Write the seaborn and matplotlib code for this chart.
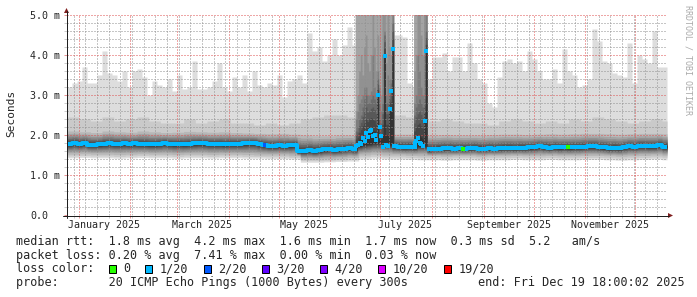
import numpy as np
import pandas as pd
import matplotlib
matplotlib.use("Agg")
import matplotlib.pyplot as plt
import matplotlib.dates as mdates
import matplotlib.transforms as mtransforms
from matplotlib.ticker import FixedLocator, MultipleLocator, NullFormatter
from matplotlib.patches import Rectangle, Polygon
from matplotlib.lines import Line2D
import seaborn as sns

sns.set_style("white")
plt.rcParams["font.family"] = ["DejaVu Sans Mono", "DejaVu Sans"]

# ---------------------------------------------------------------- data
START = pd.Timestamp("2024-12-25 00:00")
N_DAYS = 360

# 3-day samples (ms)
rtt_max = [3.20, 3.30, 3.35, 3.70, 3.30, 3.30, 3.50, 4.10, 3.55, 3.50,
           3.35, 3.60, 3.20, 3.60, 3.65, 3.45, 3.00, 3.35, 3.25, 3.20,
           3.40, 3.10, 3.50, 3.15, 3.20, 3.85, 3.15, 3.15, 3.20, 3.35,
           3.80, 3.20, 3.10, 3.45, 3.20, 3.50, 3.10, 3.60, 3.25, 3.20,
           3.30, 3.25, 3.50, 2.95, 3.35, 3.40, 3.50, 3.30, 4.55, 4.10,
           4.20, 3.85, 4.00, 4.40, 4.00, 4.25, 4.70, 4.25, 5.50, 5.50,
           5.50, 5.50, 5.50, 5.50, 5.50, 4.50, 4.50, 4.45, 3.30, 3.20,
           5.50, 5.50, 3.40, 3.95, 3.95, 4.05, 3.60, 3.95, 3.95, 3.60,
           4.30, 3.80, 3.40, 3.30, 2.80, 2.70, 3.45, 3.85, 3.90, 3.80,
           3.85, 3.60, 4.10, 3.90, 3.60, 3.40, 3.40, 3.65, 3.30, 4.15,
           3.60, 3.50, 3.20, 3.25, 3.40, 4.65, 4.35, 3.85, 3.80, 3.55,
           3.50, 3.45, 4.30, 3.30, 4.00, 3.90, 3.80, 4.60, 3.70, 3.70]
rtt_median = [1.78, 1.80, 1.78, 1.80, 1.76, 1.76, 1.77, 1.78, 1.79, 1.78,
              1.78, 1.79, 1.78, 1.79, 1.78, 1.78, 1.77, 1.77, 1.78, 1.80,
              1.78, 1.77, 1.78, 1.77, 1.78, 1.79, 1.80, 1.79, 1.78, 1.78,
              1.78, 1.77, 1.78, 1.78, 1.78, 1.79, 1.80, 1.80, 1.77, 1.75,
              1.73, 1.73, 1.74, 1.73, 1.74, 1.75, 1.60, 1.60, 1.62, 1.60,
              1.62, 1.64, 1.65, 1.63, 1.64, 1.66, 1.67, 1.64, 1.75, 1.78,
              1.80, 1.82, 1.82, 1.80, 1.78, 1.72, 1.71, 1.70, 1.71, 1.70,
              1.75, 1.75, 1.64, 1.65, 1.66, 1.67, 1.67, 1.66, 1.67, 1.66,
              1.67, 1.68, 1.66, 1.66, 1.67, 1.66, 1.67, 1.68, 1.68, 1.67,
              1.68, 1.68, 1.69, 1.70, 1.72, 1.70, 1.68, 1.70, 1.69, 1.70,
              1.69, 1.70, 1.70, 1.71, 1.72, 1.72, 1.70, 1.69, 1.67, 1.68,
              1.67, 1.70, 1.72, 1.71, 1.73, 1.73, 1.72, 1.72, 1.75, 1.71]

# weekly samples (ms)
band2_top = [2.45, 2.40, 2.35, 2.45, 2.35, 2.40, 2.45, 2.35, 2.30, 2.30,
             2.40, 2.30, 2.35, 2.40, 2.30, 2.30, 2.25, 2.30, 2.25, 2.30,
             2.40, 2.45, 2.50, 2.50, 2.45, 2.50, 2.50, 2.50, 2.50, 2.45,
             2.40, 2.35, 2.40, 2.35, 2.30, 2.30, 2.25, 2.35, 2.40, 2.35,
             2.30, 2.35, 2.30, 2.40, 2.35, 2.45, 2.40, 2.35, 2.30, 2.35,
             2.40, 2.35]
core_top = [2.10, 2.08, 2.06, 2.10, 2.08, 2.07, 2.10, 2.08, 2.06, 2.07,
            2.09, 2.08, 2.07, 2.08, 2.06, 2.05, 2.04, 2.03, 2.04, 2.02,
            2.00, 1.98, 1.98, 2.00, 2.00, 2.05, 2.05, 2.05, 2.02, 2.02,
            2.00, 2.00, 2.01, 2.00, 2.00, 2.00, 2.01, 2.02, 2.02, 2.01,
            2.02, 2.03, 2.02, 2.03, 2.04, 2.04, 2.03, 2.02, 2.03, 2.04,
            2.04, 2.03]
core_bottom = [1.52, 1.53, 1.52, 1.52, 1.51, 1.52, 1.53, 1.52, 1.52, 1.51,
               1.52, 1.52, 1.51, 1.52, 1.52, 1.51, 1.50, 1.50, 1.50, 1.48,
               1.40, 1.40, 1.41, 1.42, 1.44, 1.50, 1.52, 1.50, 1.50, 1.49,
               1.48, 1.48, 1.47, 1.48, 1.48, 1.47, 1.48, 1.48, 1.49, 1.48,
               1.48, 1.49, 1.48, 1.48, 1.49, 1.49, 1.48, 1.47, 1.48, 1.49,
               1.50, 1.48]
rtt_min = [1.43, 1.44, 1.43, 1.43, 1.42, 1.43, 1.44, 1.43, 1.43, 1.42,
           1.43, 1.43, 1.42, 1.43, 1.43, 1.42, 1.42, 1.41, 1.41, 1.40,
           1.32, 1.32, 1.33, 1.34, 1.35, 1.40, 1.42, 1.40, 1.40, 1.39,
           1.38, 1.38, 1.37, 1.38, 1.38, 1.37, 1.38, 1.38, 1.39, 1.38,
           1.38, 1.39, 1.38, 1.38, 1.39, 1.39, 1.38, 1.37, 1.38, 1.39,
           1.40, 1.38]

# disturbed days (daily samples, ms); 5.5 = above the 5 ms scale
storm_day = [173, 174, 175, 176, 177, 178, 179, 180, 181, 182, 183, 184,
             185, 186, 187, 188, 189, 190, 191, 192, 193, 194, 195,
             208, 209, 210, 211, 212, 213, 214, 215]
storm_median = [1.72, 1.74, 1.80, 1.78, 1.92, 1.85, 2.04, 1.95, 2.10, 2.12,
                1.98, 2.00, 1.88, 3.00, 2.20, 1.97, 1.71, 3.97, 1.74, 1.72,
                2.65, 3.09, 4.15,
                1.80, 1.86, 1.92, 1.80, 1.78, 1.72, 2.36, 4.10]
storm_grey_top = [2.6, 3.0, 3.6, 4.0, 3.5, 4.2, 4.5, 3.8, 3.6, 4.0, 5.5, 4.2,
                  3.6, 4.5, 3.2, 3.0, 5.5, 5.5, 3.8, 5.5, 4.2, 4.0, 5.5,
                  3.6, 4.0, 5.5, 5.5, 4.5, 4.0, 5.5, 5.5]
storm_mid_top = [2.4, 2.6, 2.8, 2.9, 3.0, 3.2, 3.2, 3.0, 3.0, 3.1, 4.0, 3.2,
                 3.0, 3.6, 2.8, 2.6, 4.0, 4.6, 3.0, 3.5, 3.4, 3.4, 5.0,
                 2.8, 3.0, 4.0, 3.6, 3.2, 3.0, 4.0, 5.0]
storm_dark_top = [2.1, 2.2, 2.4, 2.5, 2.7, 2.9, 3.0, 2.8, 2.8, 2.9, 3.0, 2.9,
                  2.8, 3.4, 2.4, 2.3, 2.8, 4.5, 2.8, 2.8, 3.0, 3.3, 4.8,
                  2.5, 2.7, 2.8, 2.9, 2.8, 2.7, 2.9, 4.6]
storm_core_top = [1.80, 1.82, 1.90, 1.95, 2.00, 2.00, 2.10, 2.10, 2.20, 2.20,
                  2.10, 2.10, 2.00, 3.00, 1.90, 1.90, 2.00, 4.00, 2.00, 2.00,
                  2.70, 2.60, 4.20,
                  1.90, 1.95, 2.00, 2.00, 1.95, 1.90, 2.40, 4.10]
ABOVE_SCALE = 5.5

# median samples with non-default loss colour
loss_mark_day = [118, 237, 300]
loss_mark_level = ["2/20", "0", "0"]

loss_labels = ["0", "1/20", "2/20", "3/20", "4/20", "10/20", "19/20"]
loss_colors = ["#26ff00", "#00b8ff", "#0059ff", "#5e00ff", "#7e00ff", "#dd00ff", "#ff0000"]

y_ticks = [0, 1, 2, 3, 4, 5]
y_tick_labels = ["0.0", "1.0 m", "2.0 m", "3.0 m", "4.0 m", "5.0 m"]
month_label_months = ["2025-01", "2025-03", "2025-05", "2025-07", "2025-09", "2025-11"]
month_labels = ["January 2025", "March 2025", "May 2025", "July 2025",
                "September 2025", "November 2025"]

median_stats = ["1.8 ms avg", "4.2 ms max", "1.6 ms min", "1.7 ms now", "0.3 ms sd", "5.2   am/s"]
loss_stats = ["0.20 % avg", "7.41 % max", "0.00 % min", "0.03 % now"]
probe_text = "20 ICMP Echo Pings (1000 Bytes) every 300s"
end_text = "end: Fri Dec 19 18:00:02 2025"

# ---------------------------------------------------------------- figure
W, H = 697, 297
def fx(x): return x / W
def fy(y): return 1 - y / H

fig = plt.figure(figsize=(W / 100, H / 100), dpi=100)
fig.patch.set_facecolor("white")
ax = fig.add_axes([fx(67), 82 / H, 600 / W, 200 / H])
ax.set_facecolor("white")

palette = dict(zip(loss_labels, loss_colors))
smoke_cols = ["#%02x%02x%02x" % ((int(190 / 10 * (10 - i)) + 50,) * 3) for i in range(1, 11)]

day = np.arange(N_DAYS)
mx = np.asarray(rtt_max)[day // 3]
med = np.asarray(rtt_median)[day // 3]
b2 = np.asarray(band2_top)[day // 7]
ct = np.asarray(core_top)[day // 7]
cb = np.asarray(core_bottom)[day // 7]
mn = np.asarray(rtt_min)[day // 7]

tops = np.zeros((10, N_DAYS))
bots = np.zeros((10, N_DAYS))
tops[0], tops[1], tops[2] = mx, b2, ct
bots[0], bots[1], bots[2] = mn, (mn + cb) / 2, cb
for k in range(3, 10):
    f = ((k - 2) / 7) ** 0.8
    tops[k] = ct + (med + 0.03 - ct) * f
    bots[k] = cb + (med - 0.03 - cb) * f

sd = np.asarray(storm_day)
dark = np.asarray(storm_dark_top)
core = np.asarray(storm_core_top)
tops[0:4, sd] = ABOVE_SCALE
tops[4, sd] = storm_grey_top
tops[5, sd] = storm_mid_top
tops[6, sd] = dark
tops[7, sd] = dark + (core - dark) / 3
tops[8, sd] = dark + 2 * (core - dark) / 3
tops[9, sd] = core

x0 = mdates.date2num(START)
xe = x0 + np.arange(N_DAYS + 1)
for k in range(10):
    ax.fill_between(xe, np.append(bots[k], bots[k][-1]), np.append(tops[k], tops[k][-1]),
                    step="post", color=smoke_cols[k], linewidth=0, zorder=1 + 0.01 * k)

# median line (segments outside disturbed windows)
storm_set = set(storm_day)
def in_storm(i):
    return all((3 * i + j) in storm_set for j in range(3))
rows = []
seg = 0
n3 = len(rtt_median)
for i in range(n3):
    if in_storm(i):
        continue
    if i == 0 or in_storm(i - 1):
        seg += 1
    rows.append((START + pd.Timedelta(days=3 * i), rtt_median[i], seg))
    if i + 1 >= n3 or in_storm(i + 1):
        rows.append((START + pd.Timedelta(days=min(3 * (i + 1), N_DAYS)), rtt_median[i], seg))
med_df = pd.DataFrame(rows, columns=["date", "rtt", "segment"])
sns.lineplot(data=med_df, x="date", y="rtt", units="segment", estimator=None,
             drawstyle="steps-post", color=palette["1/20"], linewidth=2.9,
             solid_capstyle="butt", legend=False, ax=ax, zorder=4)

storm_df = pd.DataFrame({
    "date": [START + pd.Timedelta(days=d + 0.5) for d in storm_day],
    "rtt": storm_median,
})
sns.scatterplot(data=storm_df, x="date", y="rtt", marker="s", s=8, linewidth=0,
                color=palette["1/20"], legend=False, ax=ax, zorder=5)

mark_df = pd.DataFrame({
    "date": [START + pd.Timedelta(days=d + 0.5) for d in loss_mark_day],
    "rtt": [rtt_median[d // 3] for d in loss_mark_day],
    "loss": loss_mark_level,
})
sns.scatterplot(data=mark_df, x="date", y="rtt", hue="loss", palette=palette, marker="s",
                s=8, linewidth=0, legend=False, ax=ax, zorder=6)

# ---------------------------------------------------------------- axes / grid
ax.set_xlim(xe[0], xe[-1])
ax.set_ylim(0, 5)
ax.set_xlabel("")
ax.set_ylabel("")
for s in ax.spines.values():
    s.set_visible(False)

GRID = (0.56, 0.56, 0.56, 0.45)
MGRID = (0.87, 0.31, 0.31, 0.6)
ax.yaxis.set_major_locator(FixedLocator(y_ticks))
ax.yaxis.set_minor_locator(MultipleLocator(0.2))
ax.set_yticklabels(y_tick_labels)
ax.xaxis.set_major_locator(mdates.MonthLocator())
ax.xaxis.set_minor_locator(mdates.WeekdayLocator(byweekday=mdates.SU))
ax.xaxis.set_major_formatter(NullFormatter())
ax.xaxis.set_minor_formatter(NullFormatter())
ax.set_axisbelow(False)
ax.grid(True, which="minor", color=GRID, linestyle=(0, (1, 2)), linewidth=0.72, snap=True)
ax.grid(True, which="major", color=MGRID, linestyle=(0, (1, 2)), linewidth=0.72, snap=True)
ax.tick_params(which="both", direction="out", length=2.2, width=0.72, left=True, bottom=True)
ax.tick_params(which="major", color=MGRID)
ax.tick_params(which="minor", color=GRID)
ax.tick_params(axis="y", which="major", pad=37 * 0.72 - 2.2, labelsize=7.2)
for lab in ax.get_yticklabels():
    lab.set_horizontalalignment("left")

trans = mtransforms.blended_transform_factory(ax.transData, ax.transAxes)
for m, lab in zip(month_label_months, month_labels):
    xd = mdates.date2num(pd.Timestamp(m + "-01") + pd.Timedelta(days=15))
    ax.text(xd, -9.7 / 200, lab, transform=trans, ha="center", va="center", fontsize=7.2)

# axis lines and arrows
AXIS = "#1f1f1f"
ARROW = "#801f1f"
fig.add_artist(Line2D([fx(66.5), fx(66.5)], [fy(218), fy(11)], color=AXIS, lw=0.72))
fig.add_artist(Line2D([fx(63), fx(669)], [fy(215.5), fy(215.5)], color=AXIS, lw=0.72))
fig.add_artist(Polygon([[fx(64), fy(13)], [fx(69), fy(13)], [fx(66.5), fy(8)]],
                       closed=True, transform=fig.transFigure, color=ARROW, lw=0))
fig.add_artist(Polygon([[fx(668), fy(213)], [fx(668), fy(218)], [fx(673), fy(215.5)]],
                       closed=True, transform=fig.transFigure, color=ARROW, lw=0))

# titles
fig.text(fx(11), fy(113), "Seconds", rotation=90, ha="center", va="center", fontsize=8)
fig.text(fx(688), fy(5), "RRDTOOL / TOBI OETIKER", rotation=270, ha="center", va="top",
         fontsize=6, color="#aaaaaa")

# legend block
LF = 8.5
fig.text(fx(16), fy(241.5), "median rtt:  " + "  ".join(median_stats), ha="left", va="center", fontsize=LF)
fig.text(fx(16), fy(255.3), "packet loss: " + "  ".join(loss_stats), ha="left", va="center", fontsize=LF)
fig.text(fx(16), fy(269), "loss color:", ha="left", va="center", fontsize=LF)
tx = 123.0
for lab, col in zip(loss_labels, loss_colors):
    fig.add_artist(Rectangle((fx(tx - 14.5), fy(272.5)), 7 / W, 8 / H, transform=fig.transFigure,
                             facecolor=col, edgecolor="black", lw=0.72))
    fig.text(fx(tx), fy(269), lab, ha="left", va="center", fontsize=LF)
    tx += len(lab) * 7.11 + 29.8
fig.text(fx(16), fy(282.8), "probe:       " + probe_text, ha="left", va="center", fontsize=LF)
fig.text(fx(478), fy(282.8), end_text, ha="left", va="center", fontsize=LF)

fig.savefig("out.png", dpi=100, facecolor="white")
